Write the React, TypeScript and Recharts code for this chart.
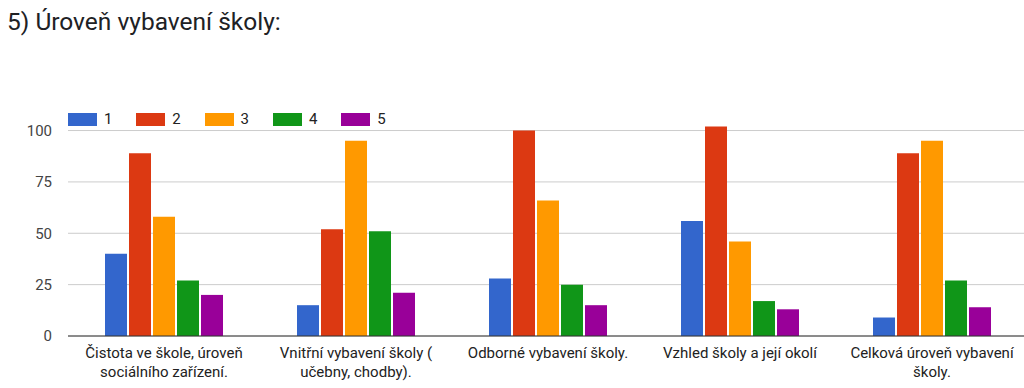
import { BarChart, Bar, XAxis, YAxis, CartesianGrid } from 'recharts';

const categories = [
  'Čistota ve škole, úroveň\nsociálního zařízení.',
  'Vnitřní vybavení školy (\nučebny, chodby).',
  'Odborné vybavení školy.',
  'Vzhled školy a její okolí',
  'Celková úroveň vybavení\nškoly.',
];

const series1 = [40, 15, 28, 56, 9];
const series2 = [89, 52, 100, 102, 89];
const series3 = [58, 95, 66, 46, 95];
const series4 = [27, 51, 25, 17, 27];
const series5 = [20, 21, 15, 13, 14];

const seriesNames = ['1', '2', '3', '4', '5'];
const colors = ['#3366cc', '#dc3912', '#ff9900', '#109618', '#990099'];
const yTicks = [0, 25, 50, 75, 100];

const data = categories.map((name, i) => ({
  name,
  s1: series1[i],
  s2: series2[i],
  s3: series3[i],
  s4: series4[i],
  s5: series5[i],
}));

const FONT = 'Roboto, Arial, sans-serif';

function CategoryTick({ x, y, payload }: any) {
  const lines = String(payload.value).split('\n');
  return (
    <text x={x} y={y} textAnchor="middle" fill="#222" fontSize={15} fontFamily={FONT}>
      {lines.map((line, i) => (
        <tspan key={i} x={x} dy={i === 0 ? 22 : 19}>
          {line}
        </tspan>
      ))}
    </text>
  );
}

function ChartLegend() {
  return (
    <div
      style={{
        position: 'absolute',
        left: 68,
        top: 113,
        display: 'flex',
        fontFamily: FONT,
        fontSize: 15,
        lineHeight: '13px',
        color: '#222',
      }}
    >
      {seriesNames.map((n, i) => (
        <div key={n} style={{ display: 'flex', alignItems: 'center', width: 68.3 }}>
          <div style={{ width: 29, height: 13, background: colors[i], marginRight: 7 }} />
          <span>{n}</span>
        </div>
      ))}
    </div>
  );
}

export default function App() {
  return (
    <div style={{ position: 'absolute', left: 0, top: 0, width: 1024, height: 388, overflow: 'hidden', background: '#fff' }}>
      <div
        style={{
          position: 'absolute',
          left: 7,
          top: 7,
          fontFamily: FONT,
          fontSize: 24.5,
          lineHeight: '29px',
          color: '#202124',
          whiteSpace: 'nowrap',
        }}
      >
        5) Úroveň vybavení školy:
      </div>
      <div style={{ position: 'absolute', left: 0, top: 0 }}>
        <BarChart
          width={1040}
          height={388}
          data={data}
          margin={{ top: 110, right: 12, left: 0, bottom: 0 }}
          barSize={22}
          barGap={2}
        >
          <CartesianGrid vertical={false} stroke="#cccccc" horizontalValues={yTicks} />
          <XAxis
            dataKey="name"
            interval={0}
            height={52}
            tickLine={false}
            tickSize={0}
            tickMargin={0}
            axisLine={{ stroke: '#333333' }}
            tick={<CategoryTick />}
          />
          <YAxis
            domain={[0, 110]}
            ticks={yTicks}
            width={68}
            axisLine={false}
            tickLine={false}
            tickSize={0}
            tickMargin={16}
            tick={{ fill: '#444', fontSize: 15, fontFamily: FONT }}
          />
          <Bar dataKey="s1" name={seriesNames[0]} fill={colors[0]} isAnimationActive={false} />
          <Bar dataKey="s2" name={seriesNames[1]} fill={colors[1]} isAnimationActive={false} />
          <Bar dataKey="s3" name={seriesNames[2]} fill={colors[2]} isAnimationActive={false} />
          <Bar dataKey="s4" name={seriesNames[3]} fill={colors[3]} isAnimationActive={false} />
          <Bar dataKey="s5" name={seriesNames[4]} fill={colors[4]} isAnimationActive={false} />
        </BarChart>
      </div>
      <ChartLegend />
    </div>
  );
}
